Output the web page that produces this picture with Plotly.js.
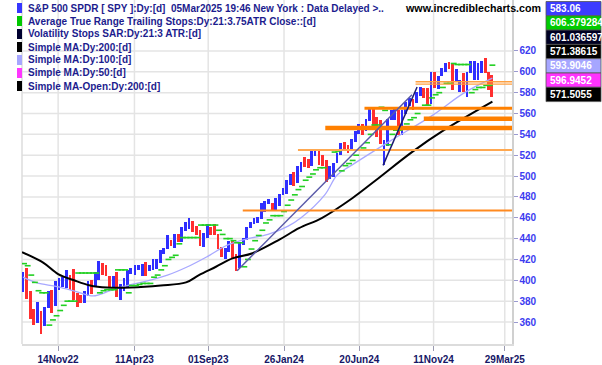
<!DOCTYPE html>
<html><head><meta charset="utf-8">
<script src="https://cdn.plot.ly/plotly-3.0.1.min.js"></script>
<style>html,body{margin:0;padding:0;background:#fff}#c{width:602px;height:365px}</style>
</head><body><div id="c"></div>
<script>
// ---- weekly SPY price bars (week ending) ----
const weeks = ['2022-09-09','2022-09-16','2022-09-23','2022-09-30','2022-10-07','2022-10-14','2022-10-21','2022-10-28','2022-11-04','2022-11-11','2022-11-18','2022-11-25','2022-12-02','2022-12-09','2022-12-16','2022-12-23','2022-12-30',
'2023-01-06','2023-01-13','2023-01-20','2023-01-27','2023-02-03','2023-02-10','2023-02-17','2023-02-24','2023-03-03','2023-03-10','2023-03-17','2023-03-24','2023-03-31','2023-04-06','2023-04-14','2023-04-21','2023-04-28','2023-05-05','2023-05-12','2023-05-19','2023-05-26','2023-06-02','2023-06-09','2023-06-16','2023-06-23','2023-06-30','2023-07-07','2023-07-14','2023-07-21','2023-07-28','2023-08-04','2023-08-11','2023-08-18','2023-08-25','2023-09-01','2023-09-08','2023-09-15','2023-09-22','2023-09-29','2023-10-06','2023-10-13','2023-10-20','2023-10-27','2023-11-03','2023-11-10','2023-11-17','2023-11-24','2023-12-01','2023-12-08','2023-12-15','2023-12-22','2023-12-29',
'2024-01-05','2024-01-12','2024-01-19','2024-01-26','2024-02-02','2024-02-09','2024-02-16','2024-02-23','2024-03-01','2024-03-08','2024-03-15','2024-03-22','2024-03-28','2024-04-05','2024-04-12','2024-04-19','2024-04-26','2024-05-03','2024-05-10','2024-05-17','2024-05-24','2024-05-31','2024-06-07','2024-06-14','2024-06-21','2024-06-28','2024-07-05','2024-07-12','2024-07-19','2024-07-26','2024-08-02','2024-08-09','2024-08-16','2024-08-23','2024-08-30','2024-09-06','2024-09-13','2024-09-20','2024-09-27','2024-10-04','2024-10-11','2024-10-18','2024-10-25','2024-11-01','2024-11-08','2024-11-15','2024-11-22','2024-11-29','2024-12-06','2024-12-13','2024-12-20','2024-12-27',
'2025-01-03','2025-01-10','2025-01-17','2025-01-24','2025-01-31','2025-02-07','2025-02-14','2025-02-21','2025-02-28','2025-03-05'];
const opens = [393.5,408.8,382.3,366.4,361.1,357.8,364.0,375.9,390.1,377.7,395.9,394.8,399.1,403.9,395.9,383.1,382.8,
384.4,388.0,398.5,396.7,402.8,409.8,408.7,403.1,399.9,404.4,381.8,390.8,398.1,408.9,408.9,412.0,411.7,415.5,411.1,412.2,418.6,422.9,428.3,431.4,437.5,432.6,442.9,438.2,447.9,453.4,456.3,448.6,444.7,437.6,441.9,450.7,448.1,443.1,429.2,426.6,427.6,433.8,420.0,413.6,435.5,439.2,450.5,454.7,457.7,459.7,470.0,474.0,
472.2,468.4,475.3,484.0,487.8,493.6,500.9,497.7,508.0,512.0,510.5,510.5,521.5,523.8,518.7,515.1,497.8,510.1,513.8,521.1,529.6,529.3,529.0,533.5,542.1,544.8,545.6,555.4,563.0,552.3,548.9,511.6,534.2,554.7,559.5,560.5,541.7,561.6,570.5,573.4,572.3,581.2,583.9,581.1,571.3,599.8,586.2,598.6,602.7,607.7,606.0,590.9,
587.5,596.3,575.8,600.7,594.8,592.7,604.1,610.9,599.7,596.2];
const highs = [407.5,411.7,389.3,372.3,379.5,370.3,374.8,389.5,390.4,399.4,402.3,402.9,410.0,404.9,410.5,387.4,386.0,
389.3,399.1,400.2,408.2,418.3,416.5,415.0,404.2,404.5,407.5,396.5,402.5,409.7,412.0,415.1,415.1,415.9,417.6,414.5,420.7,420.8,428.7,431.0,443.9,438.4,444.3,444.3,451.4,456.4,459.4,457.3,451.7,448.1,445.0,453.7,451.1,453.7,444.9,431.9,431.1,437.3,438.1,424.8,436.3,440.9,451.4,456.4,459.7,461.0,473.7,475.9,477.6,
473.7,478.6,482.7,488.8,496.1,501.7,503.5,510.1,513.3,518.5,516.1,524.1,524.6,524.4,520.0,515.3,509.9,512.6,522.6,531.5,533.1,529.5,535.4,543.0,550.3,550.3,555.0,565.2,566.0,556.7,554.1,534.2,555.0,563.2,564.2,563.0,563.0,571.0,574.7,574.1,580.3,585.7,584.8,584.6,599.4,600.2,596.2,603.3,608.0,609.1,607.8,602.5,
592.0,598.5,599.4,610.8,610.0,608.1,610.0,613.2,600.0,597.3];
const lows = [388.4,382.1,363.3,357.0,359.2,348.1,356.0,373.1,368.8,375.8,390.9,393.9,393.0,390.6,381.0,374.8,377.8,
377.8,385.4,387.3,393.6,400.3,405.0,404.0,393.6,392.3,384.3,380.7,389.5,393.7,405.7,405.5,409.9,403.8,403.7,408.9,410.2,410.9,416.2,425.5,430.2,432.5,431.2,437.1,437.1,447.1,449.6,446.3,443.3,433.0,432.0,440.5,443.0,443.4,429.9,422.3,420.2,427.0,421.1,409.2,411.6,433.4,438.5,449.8,453.8,454.8,458.5,466.0,473.3,
466.4,466.4,471.6,482.0,482.9,491.2,490.7,493.6,504.3,508.6,508.2,510.0,519.7,510.3,509.8,493.9,497.0,499.5,512.4,519.9,525.0,522.6,524.7,532.3,539.9,539.3,542.9,552.9,547.2,537.5,530.5,510.3,529.3,553.6,554.1,539.4,539.4,559.3,567.1,563.7,570.0,576.5,575.0,568.4,569.2,584.1,583.8,596.1,600.2,602.5,582.9,590.1,
580.9,580.5,575.4,598.4,592.6,592.2,598.8,598.4,582.4,575.4];
const closes = [406.6,385.6,367.9,357.2,362.8,357.6,374.3,389.0,376.4,398.5,396.0,402.3,406.9,393.3,383.3,382.9,382.4,
388.1,398.5,395.9,405.7,412.4,408.0,407.3,396.4,404.2,385.9,390.0,395.8,409.4,409.2,412.5,412.2,415.9,412.6,411.6,418.6,420.0,427.9,429.9,439.5,433.2,443.3,438.6,449.3,452.2,456.9,446.8,445.7,436.5,440.0,451.2,445.5,443.4,430.4,427.5,429.5,431.5,421.2,410.7,434.7,440.6,450.8,455.3,459.1,460.2,469.3,473.7,475.3,
467.9,476.7,482.4,487.4,494.4,501.2,499.5,507.9,512.9,511.7,509.8,521.2,523.1,518.4,510.9,495.2,508.3,511.3,520.8,529.5,529.4,527.4,534.0,542.8,544.5,544.2,554.6,560.0,549.0,544.4,532.9,533.0,554.3,562.1,563.7,540.4,562.0,568.3,571.5,573.0,579.6,584.6,579.0,571.0,598.2,585.8,595.5,602.6,607.8,604.2,591.2,595.0,
592.0,580.5,597.6,607.9,601.8,600.8,609.7,598.5,594.2,583.06];
// ---- Average True Range trailing stop (weekly reading) ----
const atrStop = [416,414,405,398,390,388,388,357,362,366,371,376,380,380,380,407,407,
407,407,407,407,388,390,391,391,391,410,410,410,388,395,395,396,397,397,397,403,405,410,414,420,422,424,435,441,441,441,441,441,453,453,453,453,453,448,444,440,440,438,436,436,413,420,430,438,443,448,455,458,
462,462,462,466,472,477,482,487,490,496,499,502,506,508,508,525,525,523,524,505,510,512,515,520,525,527,532,540,549,549,566,563,530,540,544,544,545,550,554,556,560,565,568,568,575,578,580,585,589,589,608,607,
607,607,607,580,583,585,585,587,587,606.38];
// ---- Simple MA 200 ----
const ma200Dates = ['2022-09-05','2022-10-16','2022-11-14','2022-12-15','2023-01-15','2023-02-17','2023-04-03','2023-06-01','2023-07-20','2023-08-14','2023-09-16','2023-10-18','2023-11-26','2024-01-17','2024-02-24','2024-04-09','2024-06-07','2024-07-22','2024-09-30','2024-12-01','2025-03-05'];
const ma200 = [427,417,406,400,395,393,393,395,398,405,413,421,426,439,450,460,479,496,523,544,571.39];
// ---- Simple MA 100 ----
const ma100Dates = ['2022-09-07','2022-10-04','2022-11-12','2022-12-21','2023-01-21','2023-02-23','2023-03-28','2023-04-28','2023-06-14','2023-07-23','2023-08-31','2023-10-09','2023-11-17','2023-12-26','2024-02-03','2024-02-28','2024-04-14','2024-05-08','2024-06-07','2024-08-20','2024-11-08','2025-01-10','2025-03-05'];
const ma100 = [403,397.5,394,389,385,390,395,398.5,405,413,423,434,440,444,452,460,482,501,511,534,558,580,593.9];
// ---- horizontal support/resistance lines ----
const hLevels = [590.5,588.2,565,555,546,525,467];
const hStarts = ['2024-10-07','2024-10-07','2024-06-30','2024-10-23','2024-04-15','2024-02-22','2023-11-07'];
// ---- trend lines ----
const trendStart = [['2023-10-27',409.2],['2024-08-05',510.3]];
const trendEnd   = [['2024-09-30',578],['2024-10-10',585.5]];
// ---- axis ticks ----
const xTickVals = ['2022-11-14','2023-04-11','2023-09-01','2024-01-26','2024-06-20','2024-11-11','2025-03-29'];
const xTickText = ['14Nov22','11Apr23','01Sep23','26Jan24','20Jun24','11Nov24','29Mar25'];
const yTickVals = [360,380,400,420,440,460,480,500,520,540,560,580,600,620];
// ---- legend & values ----
const legendLabels = ['S&P 500 SPDR [ SPY ]:Dy:[d]  05Mar2025 19:46 New York : Data Delayed >..',
 'Average True Range Trailing Stops:Dy:21:3.75ATR Close::[d]',
 'Volatility Stops SAR:Dy:21:3 ATR:[d]','Simple MA:Dy:200:[d]','Simple MA:Dy:100:[d]','Simple MA:Dy:50:[d]','Simple MA-Open:Dy:200:[d]'];
const lastValues = ['583.06','606.379284','601.036597','571.38615','593.9046','596.9452','571.5055'];

// ---- style ----
const legendColors = ['#3636ff','#00c800','#000030','#000000','#a6a6ff','#ff36ff','#000000'];
const boxColors = ['#3c3cff','#00cc00','#000022','#000000','#a6a6ff','#ff33ff','#000000'];
const hWidths = [1.4,1.4,3,4.5,4.5,2,2];
const hColors = ['#ffa040','#ffa040','#ff8000','#ff8000','#ff8000','#ffa850','#ff8a20'];
const trendColors = ['#5a5aa8','#1a1a70'];
const DAY = 86400000;
const W = 602, H = 365, L = 22, R = 512, T = 0, B = 344;
const px = x => (x - L) / (R - L);
const py = y => 1 - (y - T) / (B - T);
const FONT = 'Liberation Sans, Arial, sans-serif';

const traces = [];
// price bars
traces.push({type:'bar', x:weeks, base:lows, y:highs.map((h,i)=>h-lows[i]),
  offset:-4.8*DAY, width:5.4*DAY,
  marker:{color:closes.map((c,i)=>c>=opens[i]?'#2f2fff':'#ff2f2f'), line:{width:0}},
  hoverinfo:'skip'});
traces.push({type:'scatter', mode:'lines', x:ma100Dates, y:ma100, line:{color:'#a8a8ff', width:1.3, shape:'spline'}, hoverinfo:'skip'});
traces.push({type:'scatter', mode:'lines', x:ma200Dates, y:ma200, line:{color:'#000000', width:2, shape:'spline'}, hoverinfo:'skip'});
traces.push({type:'scatter', mode:'markers', x:weeks, y:atrStop,
  marker:{symbol:'line-ew', size:4.2, line:{width:1.6, color:'#22d022'}}, hoverinfo:'skip'});
hLevels.forEach((v,i)=>{
  traces.push({type:'scatter', mode:'lines', x:[hStarts[i],'2025-04-12'], y:[v,v],
    line:{color:hColors[i], width:hWidths[i]}, hoverinfo:'skip'});
});
trendStart.forEach((s,i)=>{
  traces.push({type:'scatter', mode:'lines', x:[s[0],trendEnd[i][0]], y:[s[1],trendEnd[i][1]],
    line:{color:trendColors[i], width:1.5}, hoverinfo:'skip'});
});

const shapes = [];
const annotations = [];
// grid lines
yTickVals.forEach(v=>shapes.push({type:'line', xref:'paper', yref:'y', x0:0, x1:1, y0:v, y1:v, line:{color:'#e4e4e4', width:1.5}, layer:'below'}));
xTickVals.forEach(v=>shapes.push({type:'line', xref:'x', yref:'paper', x0:v, x1:v, y0:0, y1:1, line:{color:'#e4e4e4', width:1.5}, layer:'below'}));
shapes.push({type:'line', xref:'paper', yref:'paper', x0:0, x1:0, y0:0, y1:1, line:{color:'#dcdcdc', width:1.5}, layer:'below'});
// legend
legendLabels.forEach((t,i)=>{
  const yc = 8 + 13*i;
  shapes.push({type:'rect', xref:'paper', yref:'paper', x0:px(17), x1:px(22), y0:py(yc+5), y1:py(yc-5),
    fillcolor:legendColors[i], line:{width:0}});
  annotations.push({xref:'paper', yref:'paper', x:px(26), y:py(yc), xanchor:'left', yanchor:'middle',
    text:'<b>'+t.replace(/&/g,'&amp;').replace(/</g,'&lt;').replace(/>/g,'&gt;')+'</b>', showarrow:false,
    font:{family:FONT, size:10, color:'#1c1c8e'}});
});
// value boxes
lastValues.forEach((t,i)=>{
  const y0 = 1.5 + 14.3*i, y1 = y0 + 14.3;
  shapes.push({type:'rect', xref:'paper', yref:'paper', x0:px(546), x1:px(601), y0:py(y1), y1:py(y0),
    fillcolor:boxColors[i], line:{width:0.8, color:'#555555'}});
  annotations.push({xref:'paper', yref:'paper', x:px(548), y:py((y0+y1)/2), xanchor:'left', yanchor:'middle',
    text:'<b>'+t+'</b>', showarrow:false, font:{family:FONT, size:10, color:'#ffffff'}});
});
annotations.push({xref:'paper', yref:'paper', x:px(473), y:py(8), xanchor:'center', yanchor:'middle',
  text:'<b>www.incrediblecharts.com</b>', showarrow:false, font:{family:FONT, size:10.7, color:'#000000'}});

const layout = {
  width:W, height:H, margin:{l:L, r:W-R, t:T, b:H-B, pad:0},
  paper_bgcolor:'#ffffff', plot_bgcolor:'#ffffff', showlegend:false, bargap:0,
  xaxis:{type:'date', range:['2022-09-05','2025-04-12'], tickvals:xTickVals, ticktext:xTickText,
    showgrid:false, zeroline:false, showline:true, linecolor:'#dcdcdc', linewidth:1.5,
    ticks:'outside', ticklen:5, tickcolor:'#9a9ab0', tickwidth:1,
    tickfont:{family:FONT, size:10, color:'#161666', weight:'bold'}},
  yaxis:{side:'right', range:[338.9,668.9], tickvals:yTickVals, ticktext:yTickVals.map(String),
    showgrid:false, zeroline:false, showline:true, linecolor:'#d0d0d0', linewidth:1.5,
    ticks:'outside', ticklen:4, tickcolor:'#9a9ad0', tickwidth:1,
    tickfont:{family:FONT, size:10, color:'#3c3cf0', weight:'bold'}},
  shapes:shapes, annotations:annotations
};
Plotly.newPlot('c', traces, layout, {staticPlot:true, displayModeBar:false});
</script></body></html>
